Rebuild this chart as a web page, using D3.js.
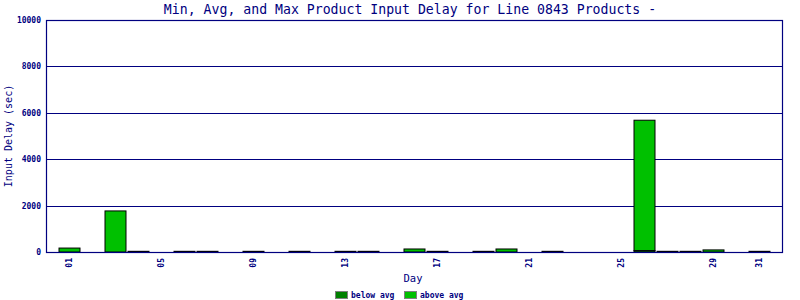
<!DOCTYPE html>
<html><head><meta charset="utf-8">
<script src="https://cdn.jsdelivr.net/npm/d3@7"></script>
<style>body{margin:0;background:#fff}svg{display:block}</style>
</head><body>
<svg id="c" width="800" height="300"></svg>
<script>
const days = [1,2,3,4,5,6,7,8,9,10,11,12,13,14,15,16,17,18,19,20,21,22,23,24,25,26,27,28,29,30,31];
const belowAvg = [0,0,0,30,0,30,30,0,30,0,30,0,30,30,0,0,30,0,30,0,0,30,0,0,0,60,30,30,0,0,30];
const aboveAvg = [170,0,1770,0,0,0,0,0,0,0,0,0,0,0,0,130,0,0,0,130,0,0,0,0,0,5620,0,0,90,0,0];
const yTicks = [0,2000,4000,6000,8000,10000];
const xTickDays = [1,5,9,13,17,21,25,29,31];
const title = "Min, Avg, and Max Product Input Delay for Line 0843 Products -";
const navy = "#000080", darkG = "#008000", lightG = "#00c000";

const svg = d3.select("#c");
const L=46,R=782,T=20,B=252;
const x = d3.scaleLinear().domain([0,32]).range([L,R]);
const y = d3.scaleLinear().domain([0,10000]).range([B,T]);
const mono = "'DejaVu Sans Mono', monospace";

svg.append("text").attr("x",410).attr("y",14).attr("text-anchor","middle")
  .attr("font-family",mono).attr("font-size","13.2px").attr("fill",navy).text(title);

// gridlines
svg.append("g").selectAll("line").data(yTicks.filter(v=>v>0)).join("line")
  .attr("x1",L).attr("x2",R).attr("y1",d=>Math.round(y(d))+0.5).attr("y2",d=>Math.round(y(d))+0.5)
  .attr("stroke",navy).attr("stroke-width",1);

// y axis labels
const ya = svg.append("g").attr("transform",`translate(${L},0)`)
  .call(d3.axisLeft(y).tickValues(yTicks).tickSize(0).tickPadding(5).tickFormat(d3.format("d")));
ya.select(".domain").remove();
ya.selectAll("text").attr("font-family",mono).attr("font-weight","bold").attr("font-size","8px").attr("fill",navy);

// bars
const data = days.map((d,i)=>({d, b:belowAvg[i], a:aboveAvg[i]}));
const bw = 21;
const g = svg.append("g");
data.forEach(o=>{
  const cx = x(o.d)+0.5;
  if(o.b>0){
    g.append("rect").attr("x",cx-bw/2).attr("width",bw)
      .attr("y",y(o.b)).attr("height",Math.max(0,y(0)-y(o.b)))
      .attr("fill",darkG).attr("stroke","#000").attr("stroke-width",1);
  }
  if(o.a>0){
    g.append("rect").attr("x",cx-bw/2).attr("width",bw)
      .attr("y",y(o.b+o.a)).attr("height",y(o.b)-y(o.b+o.a))
      .attr("fill",lightG).attr("stroke","#000").attr("stroke-width",1);
  }
});

// frame
svg.append("rect").attr("x",L+0.5).attr("y",T+0.5).attr("width",R-L).attr("height",B-T)
  .attr("fill","none").attr("stroke",navy).attr("stroke-width",1.2);

// x axis labels
const xa = svg.append("g").attr("transform",`translate(0,${B})`)
  .call(d3.axisBottom(x).tickValues(xTickDays).tickSize(0).tickFormat(d=>String(d).padStart(2,"0")));
xa.select(".domain").remove();
xa.selectAll("text").attr("font-family",mono).attr("font-weight","bold").attr("font-size","8px").attr("fill",navy)
  .attr("transform","rotate(-90)").attr("text-anchor","end").attr("x",-6).attr("y",0).attr("dy","0.32em");

// axis titles
svg.append("text").attr("x",413).attr("y",282).attr("text-anchor","middle")
  .attr("font-family",mono).attr("font-size","10.5px").attr("fill",navy).text("Day");
svg.append("text").attr("transform",`translate(12,${(T+B)/2}) rotate(-90)`).attr("text-anchor","middle")
  .attr("font-family",mono).attr("font-size","10px").attr("fill",navy).text("Input Delay (sec)");

// legend
const leg = [{t:"below avg",c:darkG,x:335},{t:"above avg",c:lightG,x:404}];
leg.forEach(l=>{
  svg.append("rect").attr("x",l.x+0.5).attr("y",291.5).attr("width",12).attr("height",7)
    .attr("fill",l.c).attr("stroke","#808080").attr("stroke-width",1);
  svg.append("text").attr("x",l.x+16).attr("y",298).attr("font-family",mono).attr("font-weight","bold")
    .attr("font-size","8px").attr("fill",navy).text(l.t);
});
</script>
</body></html>
